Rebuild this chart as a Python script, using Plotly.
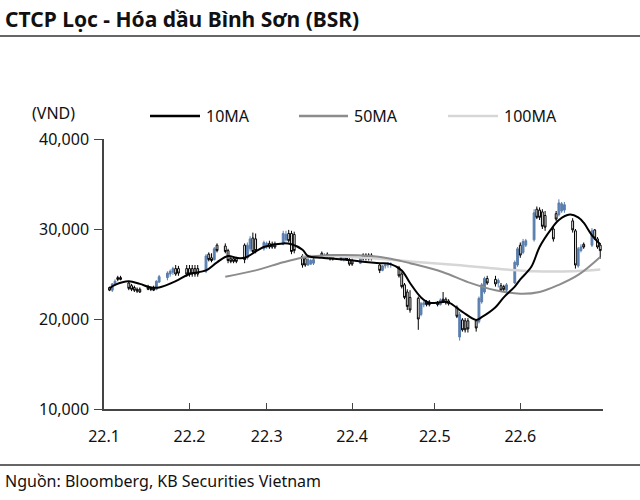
import plotly.graph_objects as go
import pandas as pd

# ---------------- data (prices in thousand VND) ----------------
dates = pd.bdate_range("2022-01-03", "2022-06-30")

open_k = [
    23.5, 23.2, 23.9, 24.6, 24.6,   24.0, 23.7, 23.5, 23.3, 23.3,
    23.6, 23.4, 23.4, 23.3, 24.1,   24.6, 25.0, 25.2, 25.6, 25.6,
    25.6, 25.6, 25.6, 25.6, 25.6,   25.3, 27.2, 26.8, 26.6, 28.2,
    28.1, 27.6, 26.7, 26.7, 26.7,   28.2, 26.8, 27.8, 29.0, 28.9,
    27.8, 28.0, 28.4, 28.3, 28.3,   28.3, 28.8, 29.5, 29.5, 29.4,
    27.0, 26.7, 26.0, 26.1, 26.2,   27.3, 26.8, 27.2, 27.0, 26.9,
    26.9, 26.6, 26.9, 26.6, 26.5,   26.2, 27.1, 27.1, 27.1, 27.1,
    26.0, 25.4, 25.9, 26.0, 26.0,   25.7, 25.0, 23.8, 23.0, 22.4,
    22.3, 20.5, 21.6, 21.9, 21.9,   21.8, 21.6, 22.2, 22.2, 22.0,
    21.3, 18.0, 19.9, 19.8, 19.8,   19.8, 19.7, 21.9, 23.0, 24.5,
    24.4, 24.0, 23.7, 23.6, 23.2,   24.0, 26.0, 28.2, 27.4, 28.2,
    28.8, 32.2, 32.1, 31.9, 31.5,   30.0, 31.7, 31.6, 32.0, 32.1,
    30.9, 29.8, 25.9, 27.6, 28.3,   28.2, 29.9, 28.9, 28.2,
]
high_k = [
    23.6, 24.0, 24.4, 24.8, 24.8,   24.2, 23.9, 23.7, 23.5, 23.5,
    23.8, 23.6, 23.7, 24.3, 24.9,   25.3, 25.5, 25.8, 26.0, 25.9,
    26.0, 26.0, 26.0, 26.0, 26.0,   27.2, 27.4, 27.3, 28.0, 28.4,
    28.4, 27.8, 26.9, 26.9, 26.9,   28.4, 28.5, 29.2, 29.6, 29.5,
    28.7, 28.6, 28.7, 28.6, 28.6,   29.8, 29.8, 29.9, 29.8, 29.7,
    27.2, 26.9, 26.8, 26.7, 26.8,   27.5, 27.3, 27.4, 27.2, 27.1,
    27.1, 27.0, 27.1, 26.8, 26.7,   26.9, 27.3, 27.3, 27.3, 27.3,
    26.1, 26.0, 26.2, 26.3, 26.3,   25.9, 25.2, 24.0, 23.3, 23.2,
    22.5, 21.9, 22.0, 22.1, 22.1,   22.0, 22.3, 23.0, 22.4, 22.2,
    21.5, 20.8, 20.1, 20.1, 20.1,   20.0, 22.5, 24.0, 24.7, 24.8,
    24.8, 24.5, 24.0, 23.8, 24.0,   26.5, 28.0, 28.5, 28.9, 28.9,
    32.2, 32.5, 32.4, 32.2, 32.0,   30.2, 32.0, 33.3, 33.0, 33.0,
    31.2, 30.0, 28.0, 28.3, 28.5,   30.1, 30.0, 29.1, 28.4,
]
low_k = [
    23.1, 23.0, 23.7, 24.2, 24.3,   23.2, 23.1, 23.0, 22.9, 22.9,
    23.2, 23.1, 23.1, 23.2, 24.0,   24.3, 24.7, 24.9, 24.8, 24.8,
    24.7, 24.7, 24.7, 24.7, 24.7,   25.1, 26.4, 26.3, 26.5, 27.4,
    27.3, 26.2, 26.2, 26.2, 26.2,   26.2, 26.6, 27.5, 27.2, 27.3,
    27.6, 27.8, 27.8, 27.8, 27.8,   28.2, 28.6, 28.5, 27.2, 27.3,
    25.7, 25.8, 25.9, 26.0, 26.0,   26.8, 26.7, 26.7, 26.5, 26.5,
    26.5, 26.4, 26.5, 25.9, 25.9,   26.1, 26.5, 26.5, 26.5, 26.5,
    25.1, 25.3, 25.6, 25.7, 25.7,   24.6, 23.4, 22.2, 21.0, 20.7,
    18.8, 20.3, 21.3, 21.4, 21.4,   21.4, 21.5, 21.8, 21.6, 21.5,
    20.1, 17.6, 18.6, 18.5, 18.5,   18.6, 19.5, 21.7, 22.8, 23.8,
    23.6, 23.5, 23.0, 23.0, 23.0,   23.9, 25.8, 26.8, 27.2, 28.0,
    28.6, 31.1, 31.0, 30.0, 29.8,   28.6, 30.9, 31.4, 31.8, 31.8,
    29.6, 25.6, 25.7, 27.4, 27.8,   28.0, 28.8, 27.8, 26.7,
]
close_k = [
    23.2, 23.9, 24.2, 24.4, 24.4,   23.4, 23.3, 23.2, 23.1, 23.0,
    23.3, 23.3, 23.2, 24.2, 24.7,   25.1, 25.3, 25.6, 25.0, 25.1,
    25.0, 25.0, 25.0, 25.0, 25.0,   27.0, 26.6, 26.5, 27.8, 27.6,
    27.5, 26.5, 26.4, 26.4, 26.4,   26.6, 28.2, 28.9, 27.5, 27.6,
    28.5, 28.4, 28.0, 28.0, 28.0,   29.5, 29.4, 28.7, 27.5, 27.6,
    26.0, 26.0, 26.6, 26.5, 26.6,   27.0, 27.1, 26.9, 26.7, 26.7,
    26.7, 26.8, 26.6, 26.1, 26.1,   26.8, 26.7, 26.7, 26.7, 26.7,
    25.4, 25.9, 26.0, 26.1, 26.1,   24.8, 23.6, 22.4, 21.4, 21.0,
    20.0, 21.7, 21.8, 21.6, 21.6,   21.6, 22.1, 22.0, 21.8, 21.7,
    20.3, 20.5, 18.8, 18.8, 18.9,   19.0, 22.3, 23.8, 24.5, 24.0,
    23.9, 24.3, 23.2, 23.3, 23.8,   26.3, 27.8, 27.1, 28.6, 28.7,
    31.8, 31.3, 31.3, 30.3, 30.2,   28.9, 31.1, 32.9, 32.8, 32.7,
    29.9, 26.0, 27.8, 28.0, 28.0,   29.8, 29.0, 28.0, 27.6,
]

ma10_dates = ["2022-01-03", "2022-01-05", "2022-01-10", "2022-01-14", "2022-01-18",
              "2022-01-21", "2022-01-27", "2022-02-01", "2022-02-07", "2022-02-11",
              "2022-02-15", "2022-02-18", "2022-02-21", "2022-02-28", "2022-03-07",
              "2022-03-10", "2022-03-14", "2022-03-16", "2022-03-21", "2022-03-29",
              "2022-04-04", "2022-04-11", "2022-04-15", "2022-04-19", "2022-04-22",
              "2022-04-26", "2022-04-29", "2022-05-04", "2022-05-06", "2022-05-11",
              "2022-05-16", "2022-05-18", "2022-05-23", "2022-05-26", "2022-05-30",
              "2022-06-01", "2022-06-05", "2022-06-08", "2022-06-12", "2022-06-15",
              "2022-06-19", "2022-06-22", "2022-06-24", "2022-06-27", "2022-06-30"]
ma10_k = [23.4, 23.8, 24.2, 23.9, 23.5,
          23.5, 24.2, 25.0, 25.4, 26.3,
          27.0, 26.8, 26.8, 28.0, 28.4,
          28.3, 27.7, 27.0, 26.8, 26.6,
          26.4, 26.2, 26.1, 25.4, 24.0,
          22.4, 21.8, 21.9, 21.85, 20.8,
          19.9, 20.2, 21.3, 22.4, 23.6,
          24.4, 25.8, 28.0, 29.9, 31.0,
          31.6, 31.3, 30.7, 29.3, 28.3]

ma50_dates = ["2022-02-14", "2022-02-25", "2022-03-07", "2022-03-14", "2022-03-25",
              "2022-04-08", "2022-04-15", "2022-04-22", "2022-05-04", "2022-05-13",
              "2022-05-23", "2022-06-01", "2022-06-08", "2022-06-15", "2022-06-22",
              "2022-06-30"]
ma50_k = [24.7, 25.4, 26.3, 26.8, 27.1,
          27.0, 26.7, 26.2, 25.2, 24.1,
          23.2, 22.8, 23.0, 23.8, 24.9,
          26.9]

ma100_dates = ["2022-03-14", "2022-04-01", "2022-04-22", "2022-05-09", "2022-05-23",
               "2022-06-06", "2022-06-20", "2022-06-30"]
ma100_k = [27.0, 26.9, 26.4, 26.0, 25.6,
           25.3, 25.3, 25.5]

month_ticks = ["2022-01-01", "2022-02-01", "2022-03-01", "2022-04-01",
               "2022-05-01", "2022-06-01", "2022-07-01"]
month_labels = ["22.1", "22.2", "22.3", "22.4", "22.5", "22.6", ""]

y_ticks = [10000, 20000, 30000, 40000]

title_text = "CTCP Lọc - Hóa dầu Bình Sơn (BSR)"
source_text = "Nguồn: Bloomberg, KB Securities Vietnam"
unit_text = "(VND)"
legend_names = ["10MA", "50MA", "100MA"]
legend_colors = ["#000000", "#8c8c8c", "#d6d6d6"]

# ---------------- helpers ----------------
def vnd(vals):
    return [v * 1000 for v in vals]

L, R, T, B = 104, 37, 139, 91
W, H = 640, 500
PW, PH = W - L - R, H - T - B

def px(x):
    return (x - L) / PW

def py(y):
    return (H - B - y) / PH

FONT = "Noto Sans"
FS = 16
BLUE = "#5b7fae"

fig = go.Figure()
fig.add_trace(go.Candlestick(
    x=dates, open=vnd(open_k), high=vnd(high_k), low=vnd(low_k), close=vnd(close_k),
    increasing=dict(line=dict(color=BLUE, width=1), fillcolor=BLUE),
    decreasing=dict(line=dict(color="#000000", width=1), fillcolor="#ffffff"),
    whiskerwidth=0, showlegend=False, hoverinfo="skip",
))
fig.add_trace(go.Scatter(x=ma100_dates, y=vnd(ma100_k), mode="lines", name=legend_names[2],
                         line=dict(color=legend_colors[2], width=2.5, shape="spline")))
fig.add_trace(go.Scatter(x=ma50_dates, y=vnd(ma50_k), mode="lines", name=legend_names[1],
                         line=dict(color=legend_colors[1], width=2, shape="spline")))
fig.add_trace(go.Scatter(x=ma10_dates, y=vnd(ma10_k), mode="lines", name=legend_names[0],
                         line=dict(color=legend_colors[0], width=2, shape="spline")))

shapes = []
annotations = []
# custom legend
leg_y = py(116)
leg_pos = [(150, 200, 204), (299, 348, 352), (448, 498, 502)]
for (x0, x1, xt), name, col in zip(leg_pos, legend_names, legend_colors):
    shapes.append(dict(type="line", xref="paper", yref="paper", x0=px(x0), x1=px(x1),
                       y0=leg_y, y1=leg_y, line=dict(color=col, width=2.5)))
    annotations.append(dict(xref="paper", yref="paper", x=px(xt), y=leg_y, text=name,
                            showarrow=False, xanchor="left", yanchor="middle",
                            font=dict(family=FONT, size=FS, color="#111")))
# title & rules
annotations.append(dict(xref="paper", yref="paper", x=px(3), y=py(19), text=f"<b>{title_text}</b>",
                        showarrow=False, xanchor="left", yanchor="middle",
                        font=dict(family=FONT, size=21, color="#111")))
shapes.append(dict(type="line", xref="paper", yref="paper", x0=px(0), x1=px(640),
                   y0=py(36), y1=py(36), line=dict(color="#333", width=1.5)))
shapes.append(dict(type="line", xref="paper", yref="paper", x0=px(0), x1=px(640),
                   y0=py(465), y1=py(465), line=dict(color="#333", width=1.5)))
annotations.append(dict(xref="paper", yref="paper", x=px(3), y=py(481), text=source_text,
                        showarrow=False, xanchor="left", yanchor="middle",
                        font=dict(family=FONT, size=FS, color="#111")))
annotations.append(dict(xref="paper", yref="paper", x=px(30), y=py(113), text=unit_text,
                        showarrow=False, xanchor="left", yanchor="middle",
                        font=dict(family=FONT, size=FS, color="#111")))

fig.update_layout(
    width=W, height=H, margin=dict(l=L, r=R, t=T, b=B),
    plot_bgcolor="white", paper_bgcolor="white", showlegend=False,
    font=dict(family=FONT, size=FS, color="#111"),
    shapes=shapes, annotations=annotations, boxgap=0.05,
    xaxis=dict(type="date", range=["2022-01-01", "2022-07-01"], tickvals=month_ticks,
               ticktext=month_labels, ticks="inside", ticklen=6, tickcolor="#444",
               showline=True, linecolor="#444", linewidth=1.5, showgrid=False,
               zeroline=False, rangeslider=dict(visible=False), ticklabelstandoff=12,
               tickfont=dict(family=FONT, size=FS, color="#111")),
    yaxis=dict(range=[10000, 40000], tickvals=y_ticks, tickformat=",d", ticks="outside",
               ticklen=8, tickcolor="#444", showline=True, linecolor="#444", linewidth=1.5,
               showgrid=False, zeroline=False, ticklabelstandoff=2,
               tickfont=dict(family=FONT, size=FS, color="#111")),
)

fig.write_html("out.html", config={"displayModeBar": False},
               post_script="document.body.style.margin='0px';")
